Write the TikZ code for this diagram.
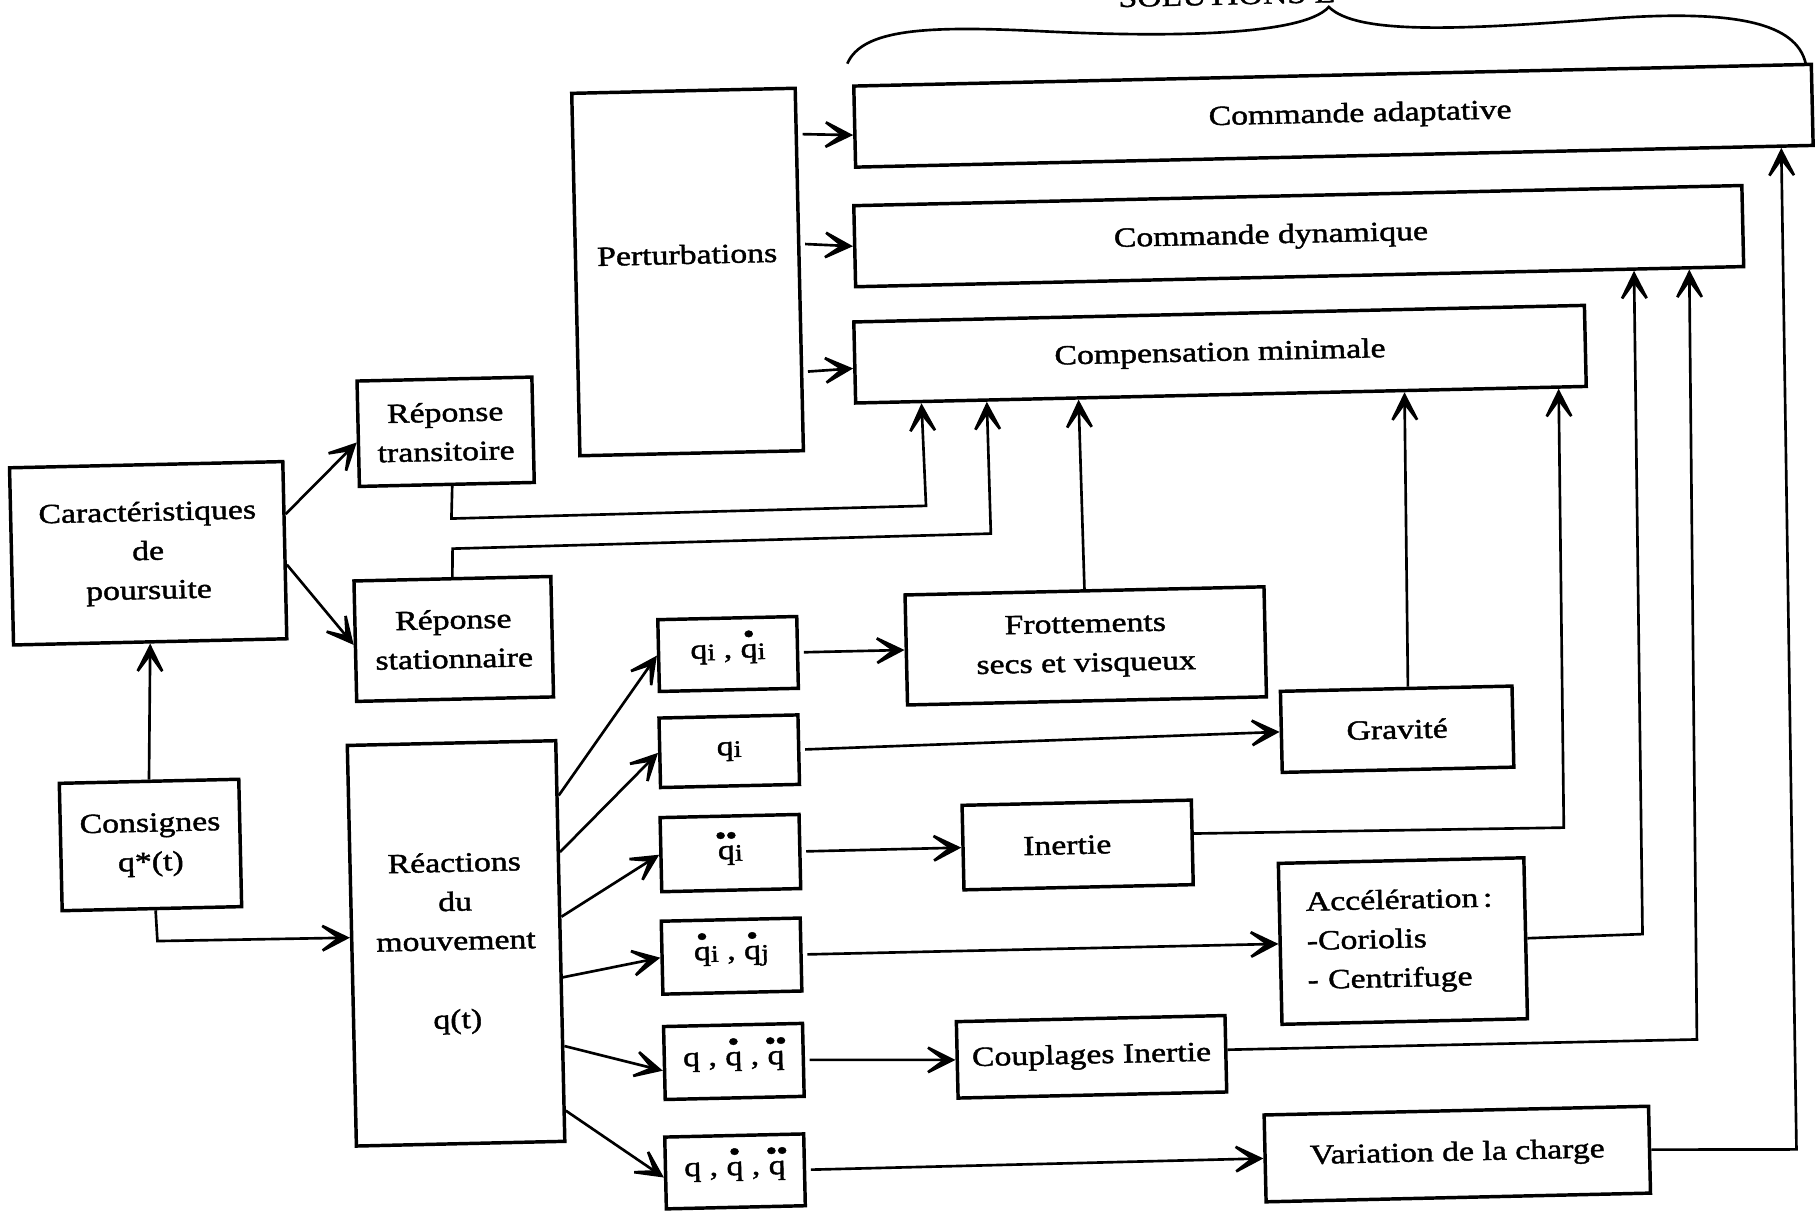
\documentclass[tikz,border=0pt]{standalone}
\usepackage{fontspec}
\setmainfont{Liberation Serif}[FakeStretch=1.22,FakeBold=1.5]
\usetikzlibrary{arrows.meta,calc}
\newcommand\sbx[1]{\raisebox{-0.15ex}{\fontsize{5.8pt}{6pt}\selectfont #1}}
\newcommand\qd{\ooalign{q\cr\hidewidth\raisebox{0.52em}{\textbullet}\hidewidth\cr}}
\newcommand\qdd{\ooalign{q\cr\hidewidth\raisebox{0.52em}{\textbullet\kern-0.04em\textbullet}\hidewidth\cr}}
\tikzset{
  box/.style={draw, line width=0.85pt, rectangle, inner sep=0pt, rotate=1.3,
    align=center, font=\fontsize{6.8pt}{9.6pt}\selectfont},
  conn/.style={line width=0.65pt, -{Stealth[length=10pt,width=10pt,inset=6.8pt]}},
  wire/.style={line width=0.65pt}
}
\begin{document}
\begin{tikzpicture}[x=0.01cm,y=-0.01cm]
\useasboundingbox (0,0) rectangle (1568,1046);
% title (cut off at top)
\node[font=\fontsize{6.8pt}{9.6pt}\selectfont, anchor=base, rotate=1.3, inner sep=0pt] (SOL) at (1060,4) {SOLUTIONS E};
\draw[wire] (732,55) .. controls (745,25) and (800,22) .. (900,27)
  .. controls (1000,32) and (1125,32) .. (1148,6)
  .. controls (1172,30) and (1260,26) .. (1390,16)
  .. controls (1500,8) and (1552,20) .. (1560,55);
% solution boxes
\node[box, minimum width=8.27cm, minimum height=0.70cm] (CA) at (1152,100) {\hspace*{0.46cm}Commande adaptative};
\node[box, minimum width=7.67cm, minimum height=0.70cm] (CD) at (1122,204) {Commande dynamique\hspace*{0.48cm}};
\node[box, minimum width=6.31cm, minimum height=0.70cm] (CM) at (1054,306) {Compensation minimale};
\node[box, minimum width=1.93cm, minimum height=3.13cm] (PE) at (594,235) {\raisebox{0.07cm}[0pt][0pt]{Perturbations}};
% left part
\node[box, minimum width=1.51cm, minimum height=0.91cm] (RT) at (385,373) {Réponse\\transitoire};
\node[box, minimum width=1.70cm, minimum height=1.04cm] (RS) at (392,552) {Réponse\\stationnaire};
\node[box, minimum width=2.36cm, minimum height=1.53cm] (CP) at (128,478) {Caractéristiques\\de\\poursuite};
\node[box, minimum width=1.55cm, minimum height=1.10cm] (CQ) at (130,730) {Consignes\\q*(t)};
\node[box, minimum width=1.80cm, minimum height=3.46cm] (RM) at (394,815) {Réactions\\du\\mouvement\\[0.34cm]q(t)};
% q boxes
\node[box, minimum width=1.20cm, minimum height=0.62cm] (Q1) at (629,565) {q\sbx{i} , \qd\sbx{i}};
\node[box, minimum width=1.20cm, minimum height=0.60cm] (Q2) at (630,649) {q\sbx{i}};
\node[box, minimum width=1.20cm, minimum height=0.64cm] (Q3) at (631,737) {\qdd\sbx{i}};
\node[box, minimum width=1.20cm, minimum height=0.63cm] (Q4) at (632,826) {\qd\sbx{i} , \qd\sbx{j}};
\node[box, minimum width=1.20cm, minimum height=0.63cm] (Q5) at (634,917) {q , \qd\ , \qdd};
\node[box, minimum width=1.20cm, minimum height=0.62cm] (Q6) at (635,1012) {q , \qd\ , \qdd};
% effect boxes
\node[box, minimum width=3.10cm, minimum height=0.95cm] (FR) at (938,558) {Frottements\\secs et visqueux};
\node[box, minimum width=2.00cm, minimum height=0.70cm] (GR) at (1207,630) {Gravité};
\node[box, minimum width=1.98cm, minimum height=0.73cm] (IN) at (931,730) {Inertie\hspace*{0.18cm}};
\node[box, minimum width=2.12cm, minimum height=1.39cm, text width=1.66cm, align=left] (AC) at (1212,813) {Accélération\,:\\-Coriolis\\- Centrifuge};
\node[box, minimum width=2.32cm, minimum height=0.66cm] (CI) at (943,913) {Couplages Inertie};
\node[box, minimum width=3.32cm, minimum height=0.75cm] (VC) at (1259,997) {Variation de la charge};
% corner points
\coordinate (kCQ) at (136,813);
\coordinate (kRTa) at (390,448);
\coordinate (kRTb) at (800,437);
\coordinate (kRSa) at (391,474);
\coordinate (kRSb) at (856,461);
\coordinate (kIN) at (1351,715);
\coordinate (kAC) at (1419,807);
\coordinate (kCI) at (1466,898);
\coordinate (kVC) at (1552,993);
% perturbations -> solutions
\draw[conn, shorten <=0.04cm] ($(PE.north east)!0.13!(PE.south east)$) -- ($(CA.north west)!0.6!(CA.south west)$);
\draw[conn, shorten <=0.04cm] ($(PE.north east)!0.43!(PE.south east)$) -- ($(CD.north west)!0.5!(CD.south west)$);
\draw[conn, shorten <=0.04cm] ($(PE.north east)!0.78!(PE.south east)$) -- ($(CM.north west)!0.57!(CM.south west)$);
% left
\draw[conn] (CQ.north) -- (CP.south);
\draw[conn] ($(CQ.south west)!0.52!(CQ.south east)$) -- (kCQ) -- ($(RM.north west)!0.48!(RM.south west)$);
\draw[conn] ($(CP.north east)!0.30!(CP.south east)$) -- ($(RT.north west)!0.58!(RT.south west)$);
\draw[conn] ($(CP.north east)!0.58!(CP.south east)$) -- ($(RS.north west)!0.53!(RS.south west)$);
\draw[conn] ($(RT.south west)!0.53!(RT.south east)$) -- (kRTa) -- (kRTb) -- ($(CM.south west)!0.092!(CM.south east)$);
\draw[conn] ($(RS.north west)!0.5!(RS.north east)$) -- (kRSa) -- (kRSb) -- ($(CM.south west)!0.181!(CM.south east)$);
% reactions -> q boxes
\draw[conn] ($(RM.north east)!0.14!(RM.south east)$) -- (Q1.west);
\draw[conn] ($(RM.north east)!0.28!(RM.south east)$) -- (Q2.west);
\draw[conn] ($(RM.north east)!0.44!(RM.south east)$) -- (Q3.west);
\draw[conn] ($(RM.north east)!0.59!(RM.south east)$) -- (Q4.west);
\draw[conn] ($(RM.north east)!0.76!(RM.south east)$) -- ($(Q5.north west)!0.6!(Q5.south west)$);
\draw[conn] ($(RM.north east)!0.92!(RM.south east)$) -- ($(Q6.north west)!0.56!(Q6.south west)$);
% q boxes -> effects
\draw[conn, shorten <=0.04cm] (Q1.east) -- (FR.west);
\draw[conn, shorten <=0.04cm] (Q2.east) -- (GR.west);
\draw[conn, shorten <=0.04cm] (Q3.east) -- (IN.west);
\draw[conn, shorten <=0.04cm] (Q4.east) -- (AC.west);
\draw[conn, shorten <=0.04cm] (Q5.east) -- (CI.west);
\draw[conn, shorten <=0.04cm] (Q6.east) -- (VC.west);
% effects -> solutions
\draw[conn] (FR.north) -- ($(CM.south west)!0.306!(CM.south east)$);
\draw[conn] ($(GR.north west)!0.55!(GR.north east)$) -- ($(CM.south west)!0.75!(CM.south east)$);
\draw[conn] ($(IN.north east)!0.4!(IN.south east)$) -- (kIN) -- ($(CM.south west)!0.96!(CM.south east)$);
\draw[conn] (AC.east) -- (kAC) -- ($(CD.south west)!0.875!(CD.south east)$);
\draw[conn] ($(CI.north east)!0.45!(CI.south east)$) -- (kCI) -- ($(CD.south west)!0.937!(CD.south east)$);
\draw[conn] (VC.east) -- (kVC) -- ($(CA.south west)!0.965!(CA.south east)$);
\end{tikzpicture}
\end{document}
